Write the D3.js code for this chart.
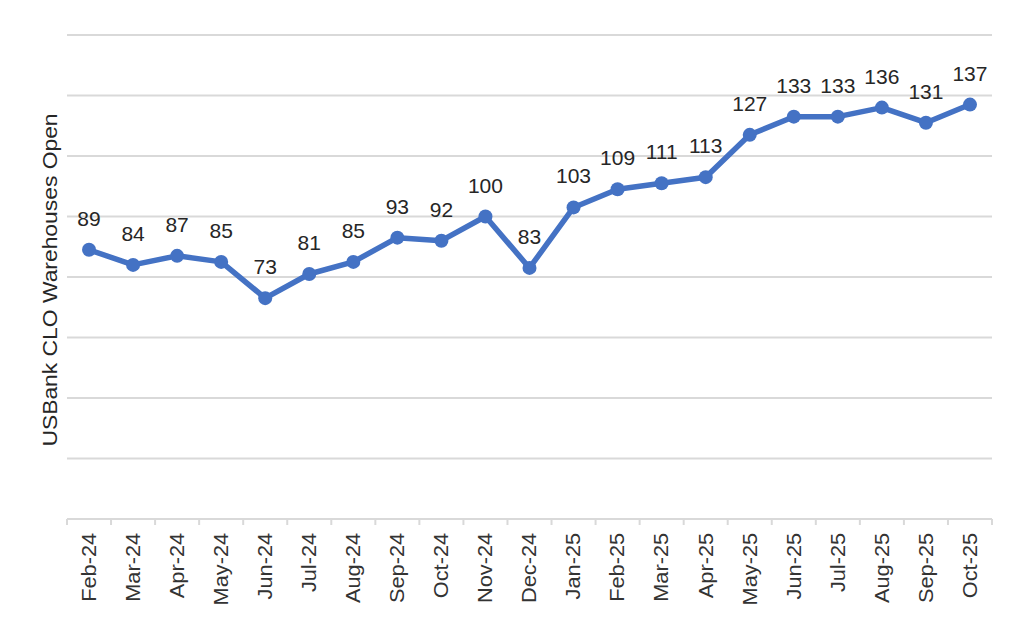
<!DOCTYPE html>
<html>
<head>
<meta charset="utf-8">
<script src="https://cdn.jsdelivr.net/npm/d3@7"></script>
<style>
  html, body { margin: 0; padding: 0; background: #fff; }
  svg { display: block; font-family: "Liberation Sans", Arial, sans-serif; }
</style>
</head>
<body>
<svg id="chart" width="1024" height="622"></svg>
<script>
const categories = ["Feb-24","Mar-24","Apr-24","May-24","Jun-24","Jul-24","Aug-24","Sep-24","Oct-24","Nov-24","Dec-24",
  "Jan-25","Feb-25","Mar-25","Apr-25","May-25","Jun-25","Jul-25","Aug-25","Sep-25","Oct-25"];
const values = [89,84,87,85,73,81,85,93,92,100,83,103,109,111,113,127,133,133,136,131,137];
const yTicks = [0,20,40,60,80,100,120,140,160];
const yTitle = "USBank CLO Warehouses Open";

(function () {
const svg = d3.select("#chart");
const pLeft = 67, pRight = 992, pTop = 35, pBottom = 519;

const x = d3.scaleBand().domain(categories).range([pLeft, pRight]).paddingInner(0).paddingOuter(0);
const y = d3.scaleLinear().domain([0, 160]).range([pBottom, pTop]);

// gridlines
svg.append("g").selectAll("line").data(yTicks.filter(d => d > 0)).join("line")
  .attr("x1", pLeft).attr("x2", pRight)
  .attr("y1", d => y(d)).attr("y2", d => y(d))
  .attr("stroke", "#d9d9d9").attr("stroke-width", 2);

// x axis
const xAxis = d3.axisBottom(x).tickSize(0).tickPadding(0);
const gx = svg.append("g").attr("transform", `translate(0,${pBottom})`).call(xAxis);
gx.select(".domain").attr("stroke", "#d9d9d9").attr("stroke-width", 2).attr("d", `M${pLeft},0H${pRight}`);
gx.selectAll(".tick text")
  .attr("transform", "rotate(-90) scale(1.115,1)")
  .attr("text-anchor", "end")
  .attr("x", -12.5).attr("y", 0).attr("dy", "0.35em")
  .attr("font-size", 19.5).attr("fill", "#333")
  .style("font-family", "'Liberation Sans', Arial, sans-serif");
// category boundary tick marks
const bounds = categories.map(c => x(c)).concat([pRight]);
gx.append("g").selectAll("line").data(bounds).join("line")
  .attr("x1", d => d).attr("x2", d => d).attr("y1", 0).attr("y2", 6)
  .attr("stroke", "#d9d9d9").attr("stroke-width", 2);

// y title
svg.append("text")
  .attr("transform", `translate(57,${(pTop + pBottom) / 2 + 3}) rotate(-90) scale(1.115,1)`)
  .attr("text-anchor", "middle")
  .attr("font-size", 20.5).attr("fill", "#262626")
  .text(yTitle);

const cx = (d, i) => x(categories[i]) + x.bandwidth() / 2;

// line
const line = d3.line().x((d, i) => cx(d, i)).y(d => y(d));
svg.append("path").datum(values)
  .attr("d", line).attr("fill", "none")
  .attr("stroke", "#4472C4").attr("stroke-width", 5.5).attr("stroke-linejoin", "round");

// markers
svg.append("g").selectAll("circle").data(values).join("circle")
  .attr("cx", cx).attr("cy", d => y(d)).attr("r", 7)
  .attr("fill", "#4472C4");

// data labels
svg.append("g").selectAll("text").data(values).join("text")
  .attr("x", cx).attr("y", d => y(d) - 24)
  .attr("text-anchor", "middle")
  .attr("font-size", 21).attr("fill", "#262626")
  .text(d => d);
})();
</script>
</body>
</html>
